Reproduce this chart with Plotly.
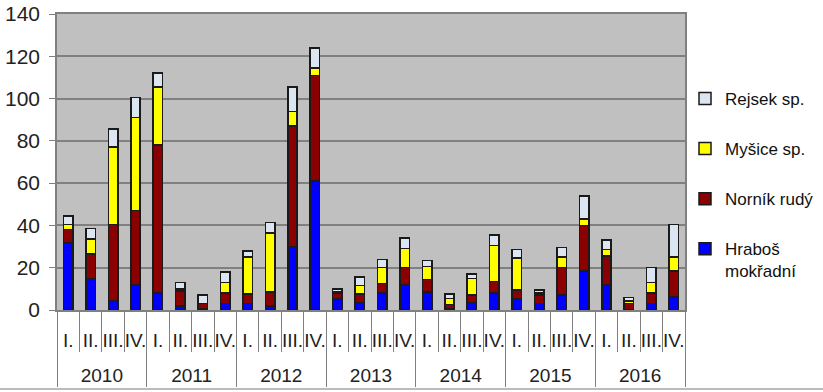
import plotly.graph_objects as go

years = ["2010", "2011", "2012", "2013", "2014", "2015", "2016"]
quarters = ["I.", "II.", "III.", "IV."]

hrabos = [32, 15, 4.5, 12, 8, 2, 0.5, 3, 3, 2, 30, 61, 5.5, 3.5, 8, 12,
          8.5, 0.5, 3.5, 8, 5.5, 3, 7, 18.5, 12, 0, 3, 6.5]
nornik = [6, 11.5, 36, 35, 70, 7, 2.5, 5, 4.5, 6.5, 57, 50, 2.5, 4, 4.5, 8,
          6, 2, 3.5, 5.5, 4, 4, 13, 21.5, 13.5, 3, 5, 12]
mysice = [2.5, 7, 36.5, 44, 27.5, 1, 0, 5, 17.5, 28, 7, 3.5, 0.5, 4, 7.5, 9,
          6, 3, 8, 17, 15, 1, 5, 3, 3, 1.3, 5, 6.5]
rejsek = [4, 5, 8.5, 9.5, 6.5, 3, 4, 5, 3, 5, 11.5, 9.5, 1.5, 4, 4, 5,
          3, 2, 2, 5, 4, 1.5, 4.5, 11, 4.5, 1.5, 7, 15.5]

series = [
    ("Hraboš<br>mokřadní", hrabos, "#0000FF", 4),
    ("Norník rudý", nornik, "#8B0000", 3),
    ("Myšice sp.", mysice, "#FFFF00", 2),
    ("Rejsek sp.", rejsek, "#DCE6F2", 1),
]

# outer (year) labels get an empty first line so they sit lower, like the reference
x_outer = ["<br>" + y for y in years for _ in quarters]
x_inner = [q for _ in years for q in quarters]

fig = go.Figure()
for i, (name, vals, col, rank) in enumerate(series):
    fig.add_trace(go.Bar(
        x=[x_outer, x_inner], y=vals, name=name, legendgroup=f"g{i}",
        legendrank=rank,
        marker=dict(color=col, line=dict(color="#1a1a1a", width=1.5)),
    ))

fig.update_layout(
    width=823, height=392,
    margin=dict(l=57, r=138, t=14, b=82, autoexpand=False),
    barmode="stack", bargap=0.58,
    paper_bgcolor="white", plot_bgcolor="#C0C0C0",
    font=dict(family="Liberation Sans, Arial", color="#222222"),
    legend=dict(
        traceorder="grouped", tracegroupgap=25, valign="top",
        x=1.0, xanchor="left", y=0.774, yanchor="top",
        font=dict(size=17, color="#111111"), bgcolor="rgba(0,0,0,0)",
        itemwidth=30,
    ),
    showlegend=True,
)
fig.update_yaxes(
    range=[0, 140], dtick=20, showgrid=True, gridcolor="#808080", gridwidth=1.5,
    ticks="outside", ticklen=6, tickcolor="#808080", ticklabelstandoff=5,
    tickfont=dict(size=21, color="#222222"),
    showline=True, linecolor="#808080", linewidth=1.5, mirror=True,
    zeroline=False, automargin=False,
)
fig.update_xaxes(
    type="multicategory", tickangle=0, automargin=False,
    tickmode="linear", dtick=1, ticklabelstandoff=12,
    ticks="outside", tickson="boundaries", ticklen=40, tickcolor="#808080",
    tickfont=dict(size=19, color="#222222"),
    showline=True, linecolor="#808080", linewidth=1.5, mirror=True,
    showdividers=True, dividercolor="#808080", dividerwidth=1,
    showgrid=False,
)
fig.add_shape(type="line", xref="paper", yref="paper", x0=-0.2, x1=1.3,
              y0=-0.267, y1=-0.267, line=dict(color="#BBBBBB", width=2))

fig.write_html("out.html", config={"displayModeBar": False},
               post_script="document.body.style.margin='0px';")
